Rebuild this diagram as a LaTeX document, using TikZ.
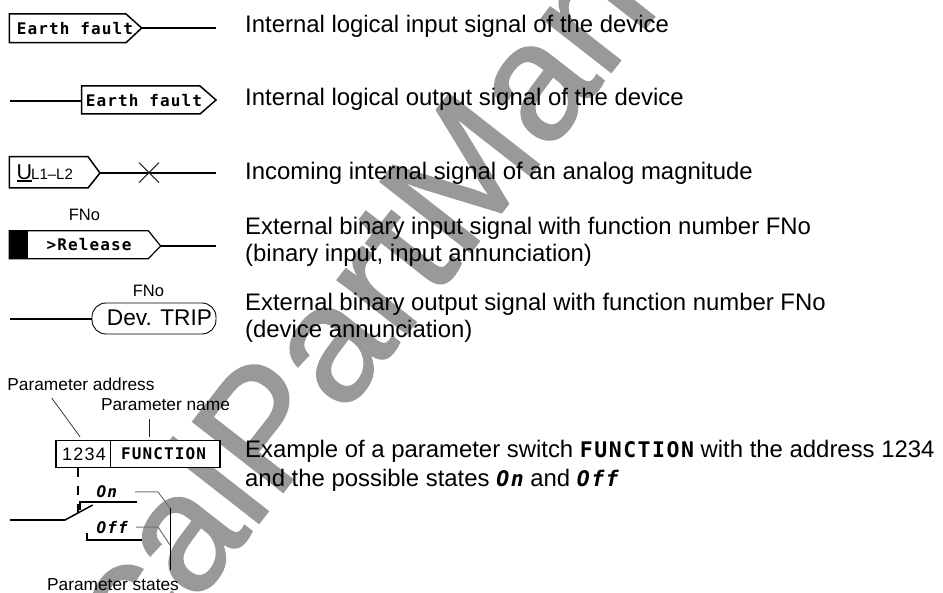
\documentclass[tikz,border=0pt]{standalone}
\usepackage{fontspec}
\setmainfont{Liberation Sans}
\newfontfamily\monob[LetterSpace=7]{DejaVu Sans Mono}
\newfontfamily\wmfont[FakeBold=1.2]{Liberation Sans}
\definecolor{wm}{gray}{0.6}
\tikzset{
  x=1pt,y=1pt,
  sig/.style={draw=black,line width=1.5pt,line join=miter},
  thinsig/.style={draw=black,line width=1pt},
  wire/.style={draw=black,line width=1.5pt},
  leader/.style={draw=black!85,line width=0.7pt},
  grayleader/.style={draw=black!55,line width=1pt},
  desc/.style={anchor=base west,inner sep=0pt,font=\fontsize{23.9}{28}\selectfont},
  small/.style={anchor=base,inner sep=0pt,font=\fontsize{17.3}{20}\selectfont},
  sigtext/.style={inner sep=0pt,font=\fontsize{16}{18}\monob\bfseries},
}
\begin{document}
\begin{tikzpicture}
\useasboundingbox (0,0) rectangle (943,-593);
\begin{scope}
\clip (0,0) rectangle (943,-593);
\node[anchor=base west,inner sep=0pt,text=wm,rotate=52,font=\fontsize{166}{176}\wmfont] (wmk) at (144,-670) {calPartManual};
\end{scope}
% row 1
\coordinate (r1t) at (141.7,-28);
\coordinate (r1e) at (216,-28);
\path[sig,fill=white] (9.3,-14) -- (126,-14) -- (r1t) -- (126,-42.7) -- (9.3,-42.7) -- cycle;
\draw[wire] (r1t) -- (r1e);
\node[sigtext] (t1) at (75,-28.5) {Earth fault};
% row 2
\coordinate (r2s) at (10,-101);
\coordinate (r2b) at (81.7,-101);
\draw[wire] (r2s) -- (r2b);
\path[sig,fill=white] (r2b |- 0,-86) -- (200,-86) -- (216,-100) -- (200,-114) -- (r2b |- 0,-114) -- cycle;
\node[sigtext] (t2) at (144,-100.5) {Earth fault};
% row 3
\coordinate (r3t) at (100,-173);
\coordinate (r3e) at (216,-173);
\path[sig,fill=white] (9.3,-156.7) -- (88,-156.7) -- (r3t) -- (88,-188) -- (9.3,-188) -- cycle;
\draw[wire] (r3t) -- (r3e);
\coordinate (xa) at (139,-162.7);
\coordinate (xb) at (159,-182.7);
\coordinate (xc) at (139,-182.7);
\coordinate (xd) at (159,-162.7);
\draw[leader,line width=1pt] (xa) -- (xb) (xc) -- (xd);
\node[anchor=base west,inner sep=0pt,font=\fontsize{21.5}{24}\selectfont] (u) at (16.5,-179.5) {U};
\draw[line width=1.6pt] ([yshift=-1.5pt]u.base west) -- ([yshift=-1.5pt]u.base east);
\node[anchor=base west,inner sep=0pt,font=\fontsize{15}{18}\selectfont] (l) at (31,-180) {L1–L2};
% row 4
\node[small,font=\fontsize{16.5}{20}\selectfont] (fno1) at (84.5,-221) {FNo};
\coordinate (r4t) at (160.7,-246);
\coordinate (r4e) at (216,-246);
\path[thinsig,line width=1.2pt,fill=white] (9.3,-230.7) -- (148.3,-230.7) -- (r4t) -- (148.3,-258.7) -- (9.3,-258.7) -- cycle;
\fill[black] (9.3,-230.7) rectangle (28,-258.7);
\draw[wire] (r4t) -- (r4e);
\node[sigtext] (t4) at (89,-245) {>Release};
% row 5
\node[small,font=\fontsize{16.5}{20}\selectfont] (fno2) at (148.5,-297) {FNo};
\node[thinsig,line width=0.9pt,fill=white,rectangle,rounded corners=14pt,minimum width=124pt,minimum height=31pt,inner sep=0pt] (r5) at (154,-318.5) {};
\coordinate (r5s) at (10,-319);
\draw[wire] (r5s) -- (r5.west |- r5s);
\node[anchor=base,inner sep=0pt,font=\fontsize{22.7}{26}\selectfont] (t5) at (159.5,-325.5) {Dev. TRIP};
% descriptions
\node[desc] (d1) at (245,-33) {Internal logical input signal of the device};
\node[desc] (d2) at (245,-106) {Internal logical output signal of the device};
\node[desc] (d3) at (245,-180) {Incoming internal signal of an analog magnitude};
\node[desc] (d4) at (245,-235) {External binary input signal with function number FNo};
\node[desc] (d5) at (245,-261.5) {(binary input, input annunciation)};
\node[desc] (d6) at (245,-311) {External binary output signal with function number FNo};
\node[desc] (d7) at (245,-338) {(device annunciation)};
\node[desc] (d8) at (245,-458) {Example of a parameter switch {\fontsize{21.5}{28}\monob\bfseries FUNCTION} with the address 1234};
\node[desc] (d9) at (245,-487) {and the possible states {\fontsize{21.5}{28}\monob\bfseries\itshape On} and {\fontsize{21.5}{28}\monob\bfseries\itshape Off}};
% parameter
\node[small] (pa) at (81,-391) {Parameter address};
\node[small] (pn) at (165.5,-411) {Parameter name};
\path[sig,fill=white] (56,-440.7) rectangle (220,-467.3);
\coordinate (b1) at (110.7,-440.7);
\coordinate (b2) at (110.7,-467.3);
\draw[sig] (b1) -- (b2);
\node[inner sep=0pt,font=\fontsize{18}{20}\selectfont] (num) at (84,-454) {1\kern1.3pt2\kern1.3pt3\kern1.3pt4};
\node[sigtext] (fn) at (163.5,-454) {FUNCTION};
\coordinate (l1a) at (51.7,-398); \coordinate (l1b) at (80,-436.7);
\coordinate (l2a) at (149.3,-419); \coordinate (l2b) at (149.3,-436.7);
\draw[leader] (l1a) -- (l1b);
\draw[leader] (l2a) -- (l2b);
% switch
\coordinate (da) at (78,-468); \coordinate (db) at (78,-514);
\draw[wire,dash pattern=on 9pt off 9pt] (da) -- (db);
\coordinate (s0) at (10,-520); \coordinate (s1) at (65,-520); \coordinate (s2) at (92.7,-505);
\draw[wire] (s0) -- (s1) -- (s2);
\coordinate (c1) at (80,-510); \coordinate (c2) at (80,-502); \coordinate (c3) at (137,-502);
\draw[wire] (c1) -- (c2) -- (c3);
\coordinate (c4) at (87,-533); \coordinate (c5) at (87,-540); \coordinate (c6) at (142,-540);
\draw[wire] (c4) -- (c5) -- (c6);
\node[anchor=base west,inner sep=0pt,font=\fontsize{16}{18}\monob\bfseries\itshape] (on) at (96.5,-497) {On};
\node[anchor=base west,inner sep=0pt,font=\fontsize{16}{18}\monob\bfseries\itshape] (off) at (96.5,-533) {Off};
\coordinate (g1) at (135,-492); \coordinate (g2) at (158,-492); \coordinate (g3) at (170,-508);
\coordinate (g4) at (136,-527); \coordinate (g5) at (158,-527); \coordinate (g6) at (170,-545);
\coordinate (v2) at (170,-570);
\draw[grayleader] (g1) -- (g2) -- (g3);
\draw[grayleader] (g4) -- (g5) -- (g6);
\draw[leader,draw=black,line width=0.9pt] (g3) -- (v2);
\node[small] (ps) at (113,-590) {Parameter states};
\end{tikzpicture}
\end{document}
